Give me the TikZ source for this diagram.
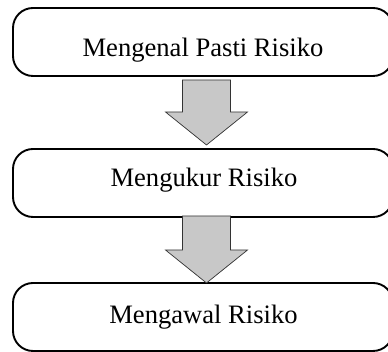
\documentclass[tikz,border=0pt]{standalone}
\usepackage{fontspec}
\setmainfont{Liberation Serif}
\usetikzlibrary{calc}
\definecolor{arrowgray}{RGB}{200,200,200}
\begin{document}
\begin{tikzpicture}[x=1pt,y=1pt,
  stagebox/.style={draw=black, line width=1.9pt, rounded corners=20pt, rectangle,
    minimum width=380pt, minimum height=68pt, inner sep=0pt},
  stagetext/.style={font=\fontsize{26.6}{30}\selectfont, anchor=base, inner sep=0pt},
  blockarrow/.style={draw=black!80, line width=0.7pt, fill=arrowgray, line join=miter}
]
\clip (0,0) rectangle (388,352);
% boxes
\node[stagebox] (b1) at (203,310) {};
\node[stagebox] (b2) at (203,169) {};
\node[stagebox] (b3) at (203,35) {};
% texts
\node[stagetext] (t1) at (203,295) {Mengenal Pasti Risiko};
\node[stagetext] (t2) at (204,165) {Mengukur Risiko};
\node[stagetext] (t3) at (203.5,28) {Mengawal Risiko};
% arrows
\coordinate (a1top) at (206.5,272);
\coordinate (a1tip) at (206.5,207);
\coordinate (a2top) at (206.5,136);
\coordinate (a2tip) at (206.5,69);
\draw[blockarrow] ($(a1top)+(-24,0)$) -- ($(a1top)+(24,0)$) -- ($(a1tip)+(24,33)$)
  -- ($(a1tip)+(41,33)$) -- (a1tip) -- ($(a1tip)+(-41,33)$) -- ($(a1tip)+(-24,33)$) -- cycle;
\draw[blockarrow] ($(a2top)+(-24,0)$) -- ($(a2top)+(24,0)$) -- ($(a2tip)+(24,33)$)
  -- ($(a2tip)+(41,33)$) -- (a2tip) -- ($(a2tip)+(-41,33)$) -- ($(a2tip)+(-24,33)$) -- cycle;
\end{tikzpicture}
\end{document}
